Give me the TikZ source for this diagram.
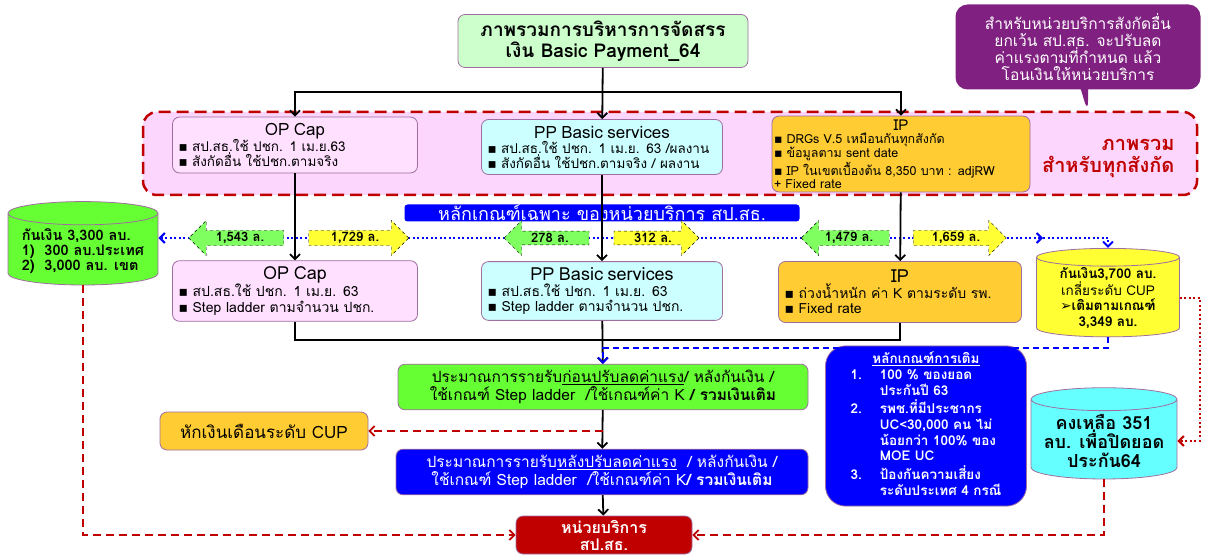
\documentclass[tikz,border=0pt]{standalone}
\usepackage{fontspec}
\setmainfont[Script=Thai]{Loma}
\newfontfamily\symfont{DejaVu Sans}
\usetikzlibrary{shapes.geometric,shapes.arrows,shapes.callouts,arrows.meta,backgrounds}

\definecolor{titlegreen}{RGB}{204,255,204}
\definecolor{pinkzone}{RGB}{252,214,252}
\definecolor{pinkbox}{RGB}{255,224,255}
\definecolor{cyanbox}{RGB}{204,255,255}
\definecolor{goldbox}{RGB}{255,204,51}
\definecolor{notepurple}{RGB}{128,32,128}
\definecolor{darkred}{RGB}{192,0,0}
\definecolor{limegreen}{RGB}{102,255,51}
\definecolor{arrowgreen}{RGB}{128,255,96}
\definecolor{arrowyellow}{RGB}{255,255,51}
\definecolor{tealcyl}{RGB}{102,255,255}
\definecolor{boxline}{RGB}{160,110,160}

\newcommand{\bul}{{\symfont ▪}~}

\begin{document}
\begin{tikzpicture}[x=1pt,y=-1pt,
	>={Straight Barb[length=5pt,width=10pt]},
	box/.style={draw=boxline,line width=0.8pt,rounded corners=7pt,inner sep=6pt,
		align=left,font=\fontsize{13.5}{15}\selectfont},
	cyl/.style={cylinder,shape border rotate=90,aspect=0.18,draw=boxline,
		line width=0.8pt,align=center,font=\bfseries\fontsize{14.5}{15}\selectfont},
	leftarrow/.style={single arrow,shape border rotate=180,draw,dashed,fill=arrowgreen,
		minimum width=35pt,single arrow head extend=9pt,inner sep=1pt,
		font=\bfseries\fontsize{13}{14}\selectfont},
	rightarrow/.style={single arrow,draw,dashed,fill=arrowyellow,
		minimum width=35pt,single arrow head extend=9pt,inner sep=1pt,
		font=\bfseries\fontsize{13}{14}\selectfont},
	link/.style={draw,line width=1.8pt},
	reddash/.style={draw=darkred,line width=1.8pt,dash pattern=on 8pt off 5pt},
	reddot/.style={draw=darkred,line width=2pt,dash pattern=on 2pt off 2.5pt},
	bluedot/.style={draw=blue,line width=2pt,dash pattern=on 2pt off 2.5pt},
	bluedash/.style={draw=blue,line width=1.8pt,dash pattern=on 6pt off 4pt}]

\useasboundingbox (0,0) rectangle (1208,556);

% zone for all affiliations
\draw[draw=darkred,fill=pinkzone,line width=2.5pt,dash pattern=on 12pt off 6pt,rounded corners=14pt]
	(143,112) rectangle (1197,195);

\node[box,fill=titlegreen,align=center,minimum width=290pt,minimum height=53pt,
	font=\bfseries\fontsize{19}{21}\selectfont] (title) at (603,41)
	{ภาพรวมการบริหารการจัดสรร\\เงิน Basic Payment\_64};

\node[rectangle callout,fill=notepurple,rounded corners=12pt,text=white,align=center,
	minimum width=245pt,minimum height=85pt,font=\fontsize{15.5}{17}\selectfont,
	callout absolute pointer={(1088,113)}] (note) at (1078,47)
	{สำหรับหน่วยบริการสังกัดอื่น\\ยกเว้น สป.สธ. จะปรับลด\\ค่าแรงตามที่กำหนด แล้ว\\โอนเงินให้หน่วยบริการ};

\node[box,fill=pinkbox,text width=233pt,minimum height=50pt] (opcapA) at (295,145)
	{{\centering\fontsize{17}{18}\selectfont OP Cap\par}\bul สป.สธ.ใช้ ปชก. 1 เม.ย.63\\\bul สังกัดอื่น ใช้ปชก.ตามจริง};
\node[box,fill=cyanbox,text width=229pt,minimum height=55pt] (ppA) at (602,147)
	{{\centering\fontsize{17}{18}\selectfont PP Basic services\par}\bul สป.สธ.ใช้ ปชก. 1 เม.ย. 63 /ผลงาน\\\bul สังกัดอื่น ใช้ปชก.ตามจริง / ผลงาน};
\node[box,fill=goldbox,text width=254pt,minimum height=74pt,inner xsep=2pt,inner ysep=3.5pt,
	font=\fontsize{12.5}{13}\selectfont] (ipA) at (901,154)
	{{\centering\fontsize{15}{14}\selectfont IP\par}\bul DRGs V.5 เหมือนกันทุกสังกัด\\\bul ข้อมูลตาม sent date\\\bul IP ในเขตเบื้องต้น 8,350 บาท : adjRW\\+ Fixed rate};
\node[text=darkred,align=right,anchor=east,font=\bfseries\fontsize{20}{22}\selectfont] (zonelabel) at (1178,158)
	{ภาพรวม\\สำหรับทุกสังกัด};

\node[fill=blue,text=white,rounded corners=3pt,minimum width=395pt,minimum height=17pt,inner sep=0pt,
	font=\fontsize{18}{18}\selectfont] (rulebar) at (602,213) {หลักเกณฑ์เฉพาะ ของหน่วยบริการ สป.สธ.};

\node[cyl,fill=limegreen,minimum width=150pt,minimum height=62pt,align=left] (fundleft) at (83,251)
	{กันเงิน 3,300 ลบ.\\1)\ \ 300 ลบ.ประเทศ\\2)\ \ 3,000 ลบ. เขต};

\node[leftarrow,minimum height=95pt] (opless) at (240,238) {1,543 ล.};
\node[rightarrow,minimum height=100pt] (opmore) at (355,238) {1,729 ล.};
\node[leftarrow,minimum height=85pt] (ppless) at (550,238) {278 ล.};
\node[rightarrow,minimum height=85pt] (ppmore) at (653,238) {312 ล.};
\node[leftarrow,minimum height=88pt] (ipless) at (849,238) {1,479 ล.};
\node[rightarrow,minimum height=93pt] (ipmore) at (956,238) {1,659 ล.};

\node[box,fill=pinkbox,text width=233pt,minimum height=58pt,font=\fontsize{14}{15.5}\selectfont] (opcapB) at (295,291)
	{{\centering\fontsize{18}{20}\selectfont OP Cap\par}\bul สป.สธ.ใช้ ปชก. 1 เม.ย. 63\\\bul Step ladder ตามจำนวน ปชก.};
\node[box,fill=cyanbox,text width=229pt,minimum height=58pt,font=\fontsize{14}{15.5}\selectfont] (ppB) at (602,291)
	{{\centering\fontsize{18}{20}\selectfont PP Basic services\par}\bul สป.สธ.ใช้ ปชก. 1 เม.ย. 63\\\bul Step ladder ตามจำนวน ปชก.};
\node[box,fill=goldbox,text width=231pt,minimum height=61pt,font=\fontsize{14}{15.5}\selectfont] (ipB) at (900,292)
	{{\centering\fontsize{18}{20}\selectfont IP\par}\bul ถ่วงน้ำหนัก ค่า K ตามระดับ รพ.\\\bul Fixed rate};
\node[cyl,fill=arrowyellow,minimum width=143pt,minimum height=66pt,inner sep=1pt,
	font=\bfseries\fontsize{13.5}{15.5}\selectfont] (fundright) at (1108,298)
	{กันเงิน3,700 ลบ.\\{\mdseries เกลี่ยระดับ CUP}\\{\symfont ➢}เติมตามเกณฑ์\\3,349 ลบ.};

\node[box,fill=limegreen,align=center,minimum width=410pt,minimum height=45pt,
	font=\fontsize{15.5}{18}\selectfont] (before) at (603,387)
	{ประมาณการรายรับ\underline{ก่อนปรับลดค่าแรง}/ หลังกันเงิน /\\ใช้เกณฑ์ Step ladder\ \ /ใช้เกณฑ์ค่า K \textbf{/ รวมเงินเติม}};
\node[box,fill=goldbox,align=center,minimum width=208pt,minimum height=38pt,
	font=\fontsize{17}{19}\selectfont] (cupcut) at (264,431) {หักเงินเดือนระดับ CUP};
\node[box,fill=blue,text=white,align=center,minimum width=412pt,minimum height=41pt,
	font=\fontsize{15.5}{18}\selectfont] (after) at (602,472)
	{ประมาณการรายรับ\underline{หลังปรับลดค่าแรง}\ \ / หลังกันเงิน /\\ใช้เกณฑ์ Step ladder\ \ /ใช้เกณฑ์ค่า K\textbf{/ รวมเงินเติม}};
\node[box,fill=darkred,text=white,align=center,minimum width=176pt,minimum height=38pt,inner sep=1pt,
	font=\bfseries\fontsize{16}{17}\selectfont] (unit) at (604,535) {หน่วยบริการ\\สป.สธ.};

\node[box,fill=blue,text=white,rounded corners=20pt,minimum width=201pt,minimum height=148pt,
	font=\bfseries\fontsize{13.5}{15.5}\selectfont] (topup) at (926,426)
	{\begin{tabular}{@{}l@{\hspace{18pt}}l@{}}
	\multicolumn{2}{c}{\underline{หลักเกณฑ์การเติม}}\\
	1. & 100 \% ของยอด\\ & ประกันปี 63\\
	2. & รพช.ที่มีประชากร\\ & UC<30,000 คน ไม่\\ & น้อยกว่า 100\% ของ\\ & MOE UC\\
	3. & ป้องกันความเสี่ยง\\ & ระดับประเทศ 4 กรณี
	\end{tabular}};
\node[cyl,fill=tealcyl,minimum width=146pt,minimum height=66pt,
	font=\bfseries\fontsize{18}{19}\selectfont] (remain) at (1104,441)
	{คงเหลือ 351\\ลบ. เพื่อปิดยอด\\ประกัน64};

\coordinate (split) at (603,92);
\coordinate (join) at (603,340);
\coordinate (bluejoin) at (603,348);
\coordinate (cutpoint) at (603,431);
\coordinate (dotturn) at (1043,238);

\draw[link,->] (title) -- (ppA);
\draw[link,->] (split) -| (opcapA.north);
\draw[link,->] (split) -| (ipA.north);
\draw[link,->] (opcapA) -- (opcapB);
\draw[link,->] (ppA) -- (ppB);
\draw[link,->] (ipA) -- (ipB);
\draw[link] (opcapB.south) |- (join);
\draw[link] (ipB.south) |- (join);
\draw[link,->] (ppB) -- (before);
\draw[bluedash,->] (fundright.south) |- (bluejoin) -- (before.north);
\draw[link,->] (before) -- (after);
\draw[reddash,->] (cutpoint) -- (cupcut);
\draw[link,->] (after) -- (unit);
\begin{pgfonlayer}{background}
\draw[bluedot,<->] (fundleft.east |- dotturn) -- (dotturn);
\end{pgfonlayer}
\draw[bluedot,->] (dotturn) -| (fundright.north);
\draw[reddash,->] (fundleft.south) |- (unit.west);
\draw[reddash,->] (remain.south) |- (unit.east);
\draw[reddot,->] (fundright.east) -- ++(20,0) |- (remain.east);

\end{tikzpicture}
\end{document}
